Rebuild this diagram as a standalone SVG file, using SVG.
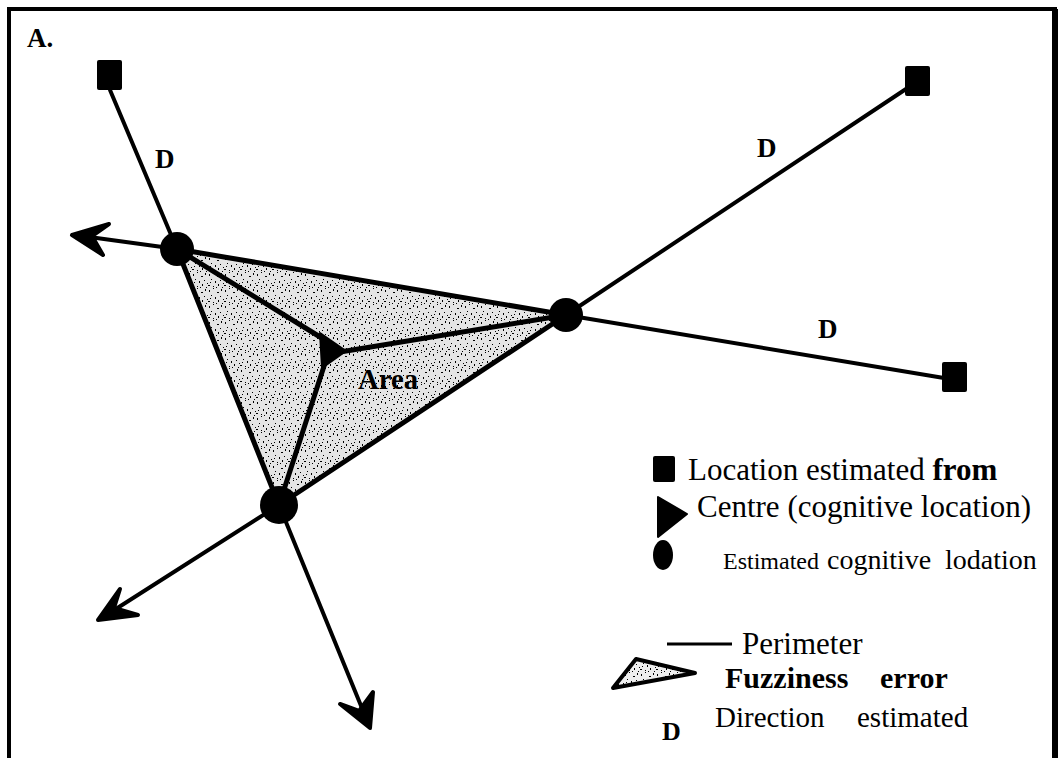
<svg xmlns="http://www.w3.org/2000/svg" width="1061" height="758" viewBox="0 0 1061 758">
<style>
.ln{stroke:#000;stroke-width:5;fill:none;stroke-linecap:round}
.thin{stroke:#000;stroke-width:4;fill:none;stroke-linecap:round}
.ah{fill:#000;stroke:#000;stroke-width:4;stroke-linejoin:round}
.bt{font-family:"Liberation Serif","Times New Roman",serif;font-weight:bold;fill:#000}
.rt{font-family:"Liberation Serif","Times New Roman",serif;fill:#000}
.sq{fill:#000}
</style>
<defs>
<pattern id="stip" width="16" height="16" patternUnits="userSpaceOnUse">
<rect x="1" y="2" width="1" height="2" fill="#000"/>
<rect x="5" y="0" width="1" height="1" fill="#000"/>
<rect x="9" y="4" width="2" height="1" fill="#000"/>
<rect x="13" y="1" width="1" height="2" fill="#000"/>
<rect x="3" y="7" width="1" height="1" fill="#000"/>
<rect x="7" y="9" width="1" height="2" fill="#000"/>
<rect x="12" y="8" width="1" height="1" fill="#000"/>
<rect x="15" y="11" width="1" height="1" fill="#000"/>
<rect x="0" y="13" width="2" height="1" fill="#000"/>
<rect x="5" y="14" width="1" height="1" fill="#000"/>
<rect x="10" y="12" width="1" height="2" fill="#000"/>
<rect x="14" y="15" width="1" height="1" fill="#000"/>
<rect x="8" y="15" width="1" height="1" fill="#000"/>
<rect x="2" y="10" width="1" height="1" fill="#000"/>
</pattern>
</defs>
<rect width="1061" height="758" fill="#fff"/>
<path d="M9,758 V9 H1055 V758" fill="none" stroke="#000" stroke-width="4"/>
<path d="M1055,9 V758" stroke="#000" stroke-width="6"/>
<text class="bt" x="27" y="47" font-size="27">A.</text>

<g id="area">
<polygon points="177,249 566,315 279,505" fill="#e4e4e4"/>
<polygon points="177,249 566,315 279,505" fill="url(#stip)"/>
<text class="bt" x="358" y="389" font-size="29" textLength="60" lengthAdjust="spacingAndGlyphs">Area</text>
</g>

<g id="connectors">
<polyline class="thin" points="110,90 177,249"/>
<polyline class="ln" points="177,249 279,505"/>
<polyline class="thin" points="279,505 366,718"/>
<polyline class="thin" points="906,89 566,315"/>
<polyline class="ln" points="566,315 279,505"/>
<polyline class="thin" points="279,505 108,614"/>
<polyline class="thin" points="944,378 566,315"/>
<polyline class="ln" points="566,315 177,249"/>
<polyline class="thin" points="177,249 82,236"/>
<polyline class="ln" points="177,249 325,340"/>
<polyline class="ln" points="566,315 340,352"/>
<polyline class="ln" points="279,505 326,360"/>
<polygon class="ah" points="72,235 109,224 92,236 103,255"/>
<polygon class="ah" points="98,620 120,589 114,608 138,615"/>
<polygon class="ah" points="370,728 340,704 359,711 373,692"/>
<text class="bt" x="155" y="168" font-size="27">D</text>
<text class="bt" x="757" y="157" font-size="27">D</text>
<text class="bt" x="818" y="338" font-size="27">D</text>
</g>

<g id="sq-tl"><rect class="sq" x="97" y="60" width="25" height="30" rx="2"/></g>
<g id="sq-tr"><rect class="sq" x="905" y="66" width="25" height="30" rx="2"/></g>
<g id="sq-br"><rect class="sq" x="942" y="362" width="25" height="30" rx="2"/></g>

<g id="node-left"><circle cx="177" cy="249" r="17"/></g>
<g id="node-right"><circle cx="566" cy="315" r="17"/></g>
<g id="node-bottom"><circle cx="279" cy="505" r="19"/></g>
<g id="centre"><polygon points="320,333 346,351 322,368" fill="#000" stroke="#000" stroke-width="2" stroke-linejoin="round"/></g>

<g id="legend">
<rect class="sq" x="653" y="456" width="22" height="26" rx="2"/>
<text class="rt" x="688" y="480" font-size="31">Location estimated <tspan font-weight="bold">from</tspan></text>
<polygon points="658,497 687,514 658,537" fill="#000" stroke="#000" stroke-width="2" stroke-linejoin="round"/>
<text class="rt" x="697" y="517" font-size="31">Centre (cognitive location)</text>
<ellipse cx="663" cy="555" rx="10" ry="15"/>
<text class="rt" y="569"><tspan x="723" font-size="24">Estimated</tspan><tspan x="827" font-size="28">cognitive</tspan><tspan x="945" font-size="28">lodation</tspan></text>
<line x1="667" y1="644" x2="732" y2="644" stroke="#000" stroke-width="3"/>
<text class="rt" x="742" y="654" font-size="31">Perimeter</text>
<polygon points="613,688 636,659 695,673" fill="#eee" stroke="#000" stroke-width="4" stroke-linejoin="round"/>
<polygon points="613,688 636,659 695,673" fill="url(#stip)"/>
<text class="bt" y="688" font-size="30"><tspan x="725">Fuzziness</tspan><tspan x="880">error</tspan></text>
<text class="bt" x="662" y="740" font-size="26">D</text>
<text class="rt" y="727" font-size="29"><tspan x="715">Direction</tspan><tspan x="857">estimated</tspan></text>
</g>
</svg>
